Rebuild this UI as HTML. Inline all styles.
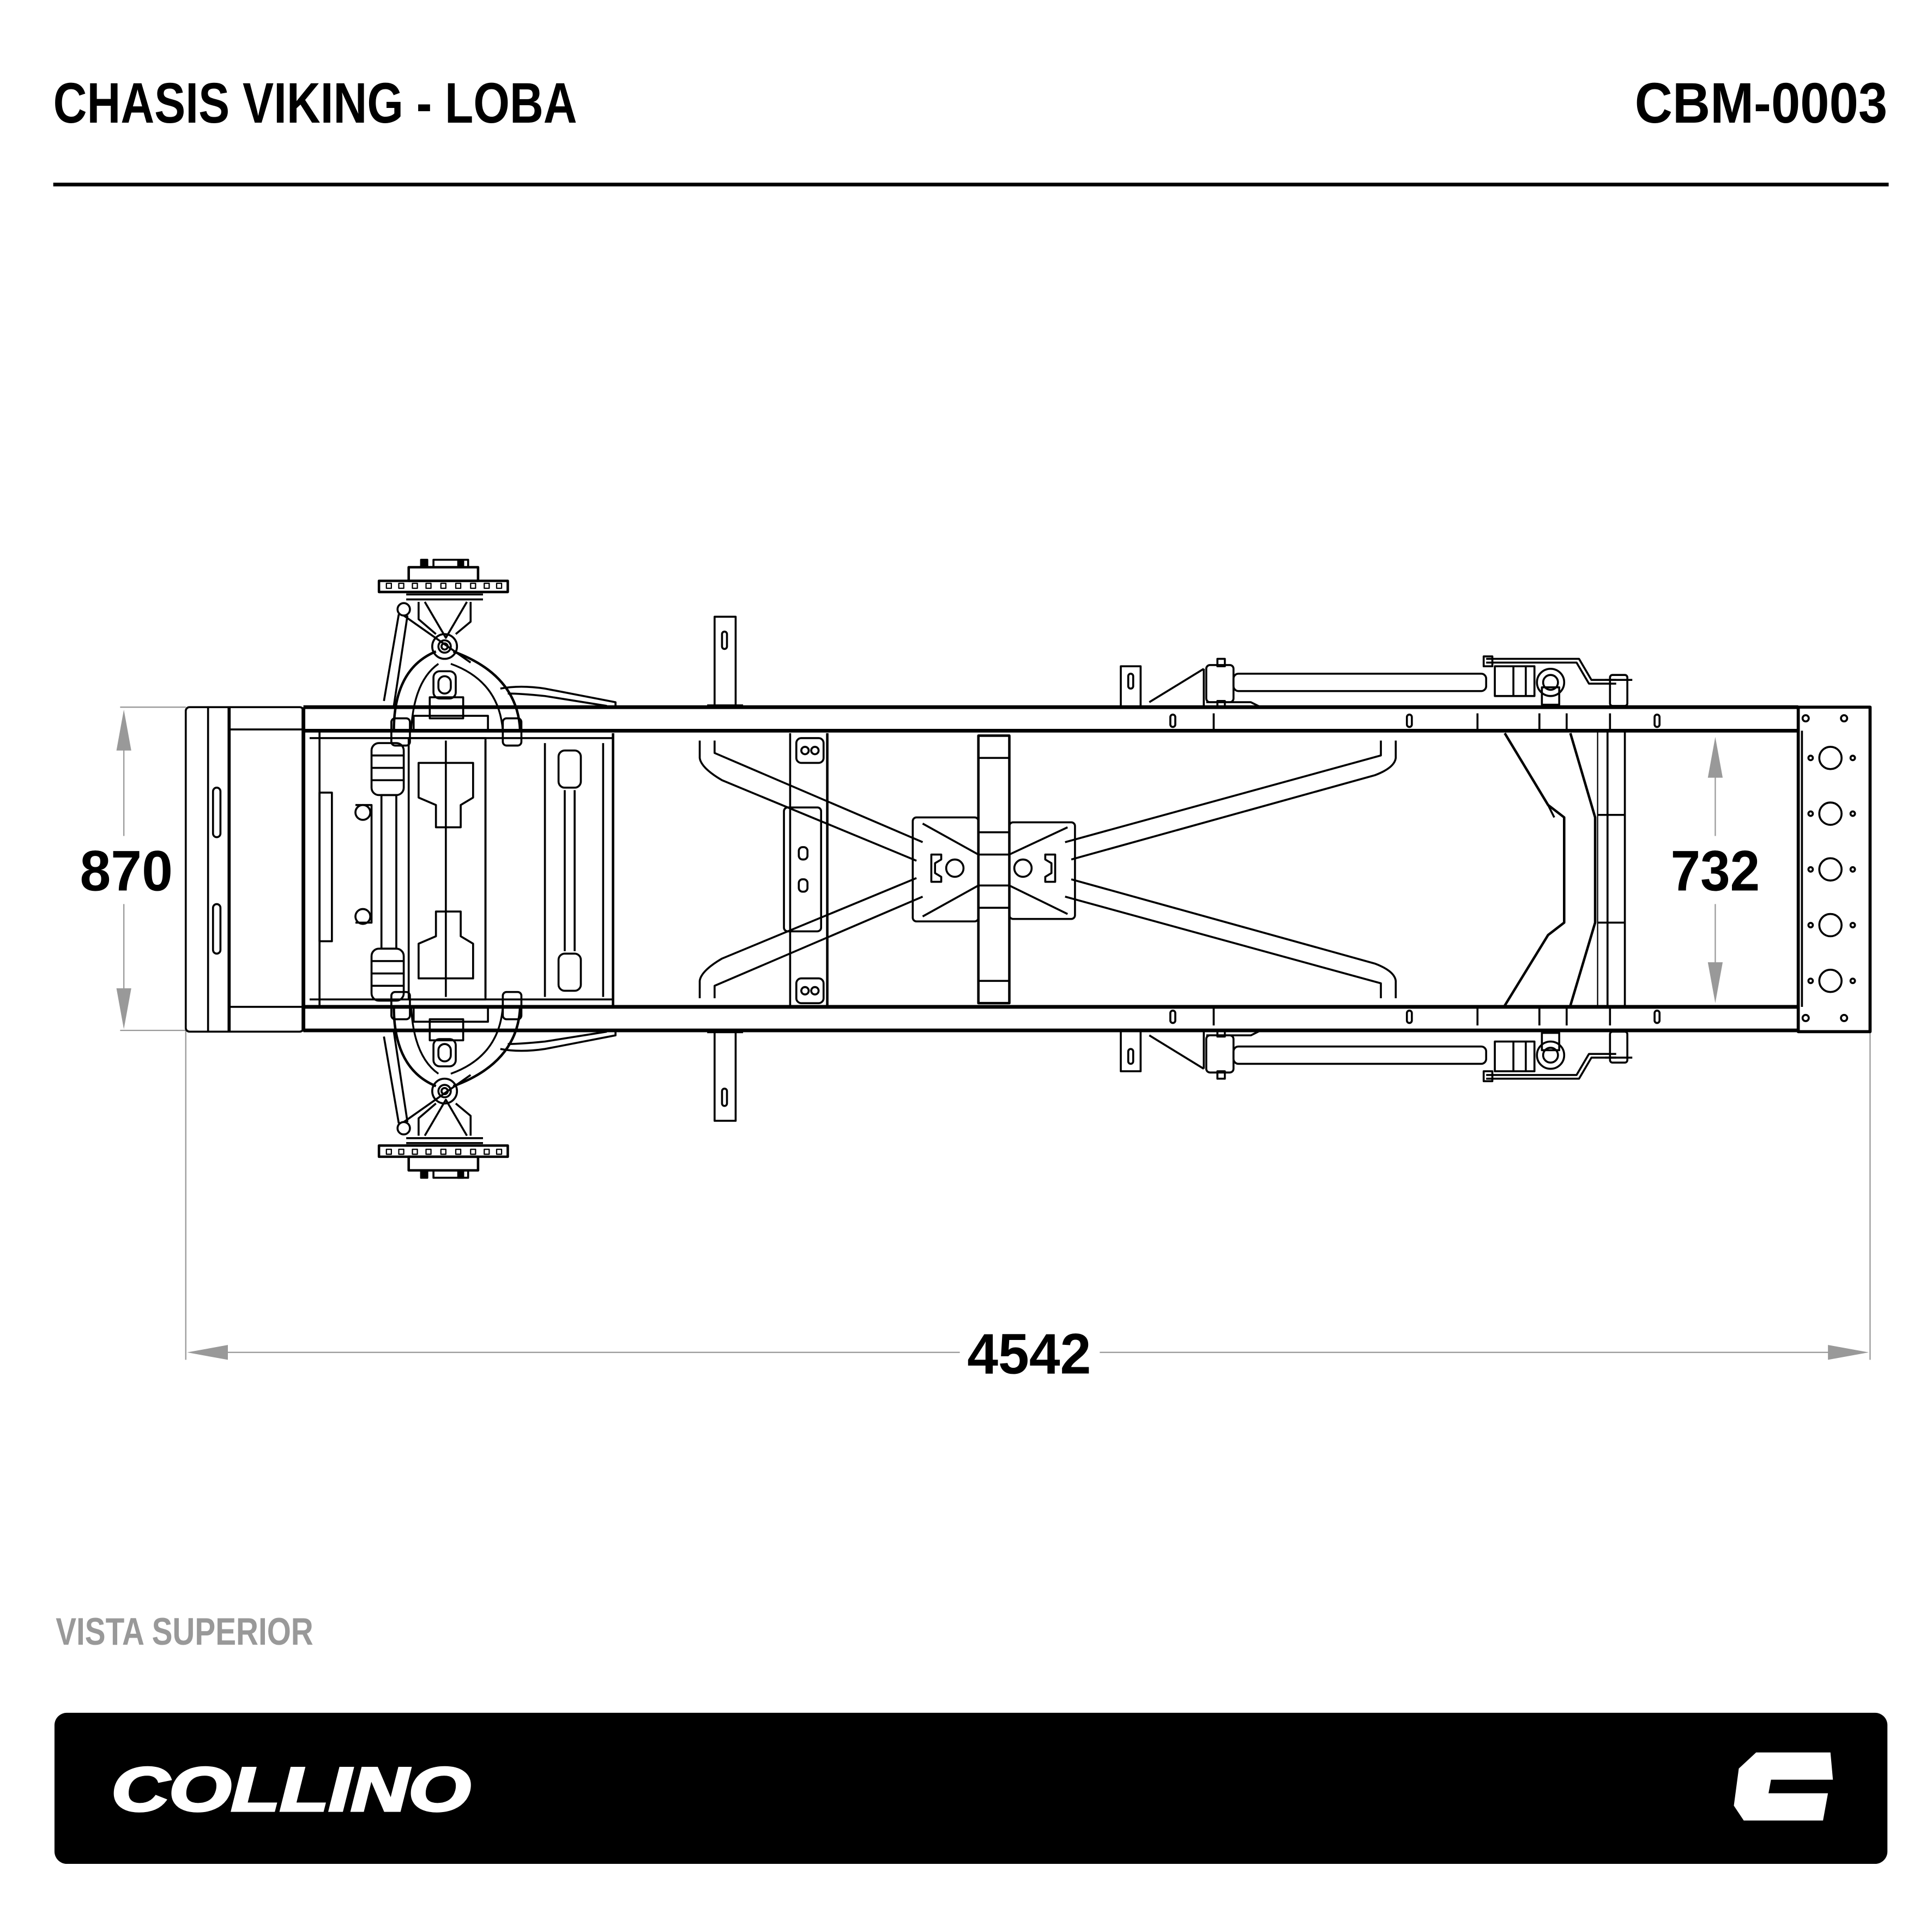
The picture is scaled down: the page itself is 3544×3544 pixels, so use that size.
<!DOCTYPE html>
<html><head><meta charset="utf-8">
<style>
html,body{margin:0;padding:0;background:#fff;}
svg{display:block;}
</style></head>
<body>
<svg width="3544" height="3544" viewBox="0 0 1560 1560" xmlns="http://www.w3.org/2000/svg">
<rect width="1560" height="1560" fill="#fff"/>
<text x="43" y="99" font-family="Liberation Sans, sans-serif" font-weight="bold" font-size="46" textLength="423" lengthAdjust="spacingAndGlyphs" fill="#000">CHASIS VIKING - LOBA</text>
<text x="1320" y="99" font-family="Liberation Sans, sans-serif" font-weight="bold" font-size="46" textLength="204" lengthAdjust="spacingAndGlyphs" fill="#000">CBM-0003</text>
<rect x="43" y="147.5" width="1482" height="3" fill="#000"/>

<g stroke="#999" stroke-width="1" fill="none">
<line x1="97" y1="571" x2="150" y2="571"/>
<line x1="97" y1="832" x2="150" y2="832"/>
<line x1="100" y1="590" x2="100" y2="675"/>
<line x1="100" y1="730" x2="100" y2="815"/>
<line x1="1385" y1="612" x2="1385" y2="675"/>
<line x1="1385" y1="730" x2="1385" y2="792"/>
<line x1="150" y1="832" x2="150" y2="1098"/>
<line x1="1510" y1="832" x2="1510" y2="1098"/>
<line x1="165" y1="1092" x2="775" y2="1092"/>
<line x1="888" y1="1092" x2="1495" y2="1092"/>
</g>
<g fill="#999">
<polygon points="100,573 94,606 106,606"/>
<polygon points="100,831 94,798 106,798"/>
<polygon points="1385,595 1379,628 1391,628"/>
<polygon points="1385,810 1379,777 1391,777"/>
<polygon points="151,1092 184,1086 184,1098"/>
<polygon points="1509,1092 1476,1086 1476,1098"/>
</g>
<g font-family="Liberation Sans, sans-serif" font-weight="bold" font-size="46" fill="#000" text-anchor="middle">
<text x="102" y="719" textLength="75" lengthAdjust="spacingAndGlyphs">870</text>
<text x="1385" y="719" textLength="72" lengthAdjust="spacingAndGlyphs">732</text>
<text x="831" y="1109" textLength="100" lengthAdjust="spacingAndGlyphs">4542</text>
</g>
<text x="45" y="1328" font-family="Liberation Sans, sans-serif" font-weight="bold" font-size="31" fill="#999" textLength="208" lengthAdjust="spacingAndGlyphs">VISTA SUPERIOR</text>

<rect x="44" y="1383" width="1480" height="122" rx="10" fill="#000"/>
<text x="90" y="1462" font-family="Liberation Sans, sans-serif" font-weight="bold" font-style="italic" font-size="50" fill="#fff" stroke="#fff" stroke-width="2" textLength="290" lengthAdjust="spacingAndGlyphs">COLLINO</text>
<polygon points="1418,1415 1478,1415 1480,1437 1430,1437 1428,1448 1476,1448 1472,1470 1408,1470 1400,1458 1404,1428" fill="#fff"/>

<g fill="none" stroke="#000" stroke-width="1.6" stroke-linejoin="round">
<rect x="150" y="571" width="95" height="262" rx="3"/>
<line x1="168" y1="571" x2="168" y2="833"/>
<line x1="185" y1="571" x2="185" y2="833" stroke-width="2.5"/>
<line x1="185" y1="589" x2="245" y2="589"/>
<line x1="185" y1="813" x2="245" y2="813"/>
<rect x="172" y="636" width="6" height="40" rx="3"/>
<rect x="172" y="730" width="6" height="40" rx="3"/>
<line x1="245" y1="571" x2="1452" y2="571" stroke-width="3"/>
<line x1="245" y1="590" x2="1452" y2="590" stroke-width="3"/>
<line x1="245" y1="813" x2="1452" y2="813" stroke-width="3"/>
<line x1="245" y1="832" x2="1452" y2="832" stroke-width="3"/>
<line x1="245" y1="571" x2="245" y2="833" stroke-width="3"/>
<line x1="258" y1="590" x2="258" y2="813"/>
<line x1="250" y1="596" x2="495" y2="596"/>
<line x1="250" y1="807" x2="495" y2="807"/>
<line x1="980" y1="576" x2="980" y2="590"/><line x1="1193" y1="576" x2="1193" y2="590"/><line x1="1243" y1="576" x2="1243" y2="590"/>
<line x1="1265" y1="576" x2="1265" y2="590"/><line x1="1300" y1="576" x2="1300" y2="590"/>
<line x1="980" y1="813" x2="980" y2="828"/><line x1="1193" y1="813" x2="1193" y2="828"/><line x1="1243" y1="813" x2="1243" y2="828"/>
<line x1="1265" y1="813" x2="1265" y2="828"/><line x1="1300" y1="813" x2="1300" y2="828"/>
<rect x="945" y="577" width="4" height="10" rx="2"/><rect x="1136" y="577" width="4" height="10" rx="2"/><rect x="1336" y="577" width="4" height="10" rx="2"/>
<rect x="945" y="816" width="4" height="10" rx="2"/><rect x="1136" y="816" width="4" height="10" rx="2"/><rect x="1336" y="816" width="4" height="10" rx="2"/>
<rect x="1452" y="571" width="58" height="262" stroke-width="2.5"/>
<line x1="1455" y1="590" x2="1455" y2="813"/>
<g>
<circle cx="1478" cy="612" r="9"/><circle cx="1478" cy="657" r="9"/><circle cx="1478" cy="702" r="9"/><circle cx="1478" cy="747" r="9"/><circle cx="1478" cy="792" r="9"/>
<circle cx="1462" cy="612" r="1.8"/><circle cx="1496" cy="612" r="1.8"/><circle cx="1462" cy="657" r="1.8"/><circle cx="1496" cy="657" r="1.8"/>
<circle cx="1462" cy="702" r="1.8"/><circle cx="1496" cy="702" r="1.8"/><circle cx="1462" cy="747" r="1.8"/><circle cx="1496" cy="747" r="1.8"/>
<circle cx="1462" cy="792" r="1.8"/><circle cx="1496" cy="792" r="1.8"/>
<circle cx="1458" cy="580" r="2.5"/><circle cx="1489" cy="580" r="2.5"/><circle cx="1458" cy="822" r="2.5"/><circle cx="1489" cy="822" r="2.5"/>
</g>
<line x1="1298" y1="590" x2="1298" y2="813"/>
<line x1="1312" y1="590" x2="1312" y2="813"/>
<line x1="1290" y1="590" x2="1290" y2="813" stroke-width="1"/>
<line x1="1290" y1="658" x2="1312" y2="658"/><line x1="1290" y1="745" x2="1312" y2="745"/>
<polyline points="1215,592 1250,650 1263,660 1263,745 1250,755 1215,812" stroke-width="2"/>
<polyline points="1268,592 1288,660 1288,745 1268,812" stroke-width="2"/>
<line x1="1250" y1="650" x2="1255" y2="660"/>
<path d="M565,598 L565,612 Q566,620 583,630 L740,695"/>
<path d="M577,598 L577,608 L745,680"/>
<path d="M565,806 L565,792 Q566,784 583,774 L740,709"/>
<path d="M577,806 L577,796 L745,724"/>
<path d="M1127,598 L1127,612 Q1126,620 1110,626 L865,694"/>
<path d="M1115,598 L1115,610 L860,680"/>
<path d="M1127,806 L1127,792 Q1126,784 1110,778 L865,710"/>
<path d="M1115,806 L1115,794 L860,724"/>
<rect x="737" y="660" width="53" height="84" rx="3"/>
<rect x="815" y="664" width="53" height="78" rx="3"/>
<line x1="745" y1="665" x2="790" y2="690"/><line x1="745" y1="740" x2="790" y2="715"/>
<line x1="815" y1="690" x2="862" y2="668"/><line x1="815" y1="715" x2="862" y2="738"/>
<circle cx="771" cy="701" r="7"/><circle cx="826" cy="701" r="7"/>
<path d="M752,690 L760,690 L760,694 L755,697 L755,705 L760,708 L760,712 L752,712 Z"/>
<path d="M852,690 L844,690 L844,694 L849,697 L849,705 L844,708 L844,712 L852,712 Z"/>
<rect x="790" y="594" width="25" height="216" stroke-width="2"/>
<line x1="790" y1="612" x2="815" y2="612"/><line x1="790" y1="672" x2="815" y2="672"/><line x1="790" y1="690" x2="815" y2="690"/>
<line x1="790" y1="715" x2="815" y2="715"/><line x1="790" y1="733" x2="815" y2="733"/><line x1="790" y1="792" x2="815" y2="792"/>
<line x1="638" y1="592" x2="638" y2="812"/><line x1="668" y1="592" x2="668" y2="812" stroke-width="2"/>
<rect x="633" y="652" width="30" height="100" rx="3"/>
<rect x="643" y="596" width="22" height="20" rx="4"/><rect x="643" y="790" width="22" height="20" rx="4"/>
<circle cx="650" cy="606" r="3"/><circle cx="658" cy="606" r="3"/><circle cx="650" cy="800" r="3"/><circle cx="658" cy="800" r="3"/>
<rect x="645" y="684" width="7" height="10" rx="3"/><rect x="645" y="710" width="7" height="10" rx="3"/>
<rect x="330" y="596" width="62" height="211"/>
<line x1="360" y1="598" x2="360" y2="805"/>
<path d="M338,616 L382,616 L382,644 L372,650 L372,668 L352,668 L352,650 L338,644 Z"/>
<path d="M338,790 L382,790 L382,762 L372,756 L372,736 L352,736 L352,756 L338,762 Z"/>
<line x1="392" y1="598" x2="392" y2="805"/>
<line x1="440" y1="600" x2="440" y2="805"/><line x1="487" y1="600" x2="487" y2="805"/><line x1="495" y1="592" x2="495" y2="812" stroke-width="2"/>
<rect x="451" y="606" width="18" height="30" rx="5"/><rect x="451" y="770" width="18" height="30" rx="5"/>
<line x1="456" y1="638" x2="456" y2="768"/><line x1="464" y1="638" x2="464" y2="768"/>
<rect x="300" y="600" width="26" height="42" rx="6"/>
<line x1="300" y1="610" x2="326" y2="610"/><line x1="300" y1="620" x2="326" y2="620"/><line x1="300" y1="630" x2="326" y2="630"/>
<rect x="300" y="766" width="26" height="42" rx="6"/>
<line x1="300" y1="776" x2="326" y2="776"/><line x1="300" y1="786" x2="326" y2="786"/><line x1="300" y1="796" x2="326" y2="796"/>
<rect x="308" y="642" width="12" height="124"/>
<circle cx="293" cy="656" r="6"/><circle cx="293" cy="740" r="6"/>
<path d="M287,650 L300,650 L300,745 L287,745"/>
<rect x="258" y="640" width="10" height="120"/>
</g>

<g id="susp" fill="none" stroke="#000" stroke-width="1.6" stroke-linejoin="round">
<rect x="306" y="469" width="104" height="9" stroke-width="2"/>
<g stroke-width="1">
<rect x="312" y="471" width="4" height="4"/><rect x="322" y="471" width="4" height="4"/><rect x="333" y="471" width="4" height="4"/><rect x="344" y="471" width="4" height="4"/><rect x="356" y="471" width="4" height="4"/><rect x="368" y="471" width="4" height="4"/><rect x="380" y="471" width="4" height="4"/><rect x="391" y="471" width="4" height="4"/><rect x="401" y="471" width="4" height="4"/>
</g>
<rect x="330" y="458" width="56" height="11" stroke-width="2"/>
<rect x="340" y="452" width="5" height="6" fill="#000"/><rect x="350" y="452" width="28" height="6"/><rect x="370" y="452" width="4" height="6" fill="#000"/>
<line x1="328" y1="480" x2="390" y2="480"/><line x1="328" y1="484" x2="390" y2="484"/>
<path d="M343,486 L360,515 L377,486"/>
<path d="M338,486 L338,500 L352,512"/><path d="M380,486 L380,502 L368,512"/>
<circle cx="359" cy="522" r="10"/><circle cx="359" cy="522" r="5"/><circle cx="359" cy="522" r="2.5"/>
<circle cx="326" cy="492" r="5"/>
<path d="M322,496 L310,566"/><path d="M329,497 L318,570"/>
<line x1="326" y1="497" x2="380" y2="535"/>
<path d="M318,590 Q318,540 352,526" stroke-width="2"/>
<path d="M332,590 Q334,550 354,536" stroke-width="1.5"/>
<path d="M420,590 Q418,545 366,526" stroke-width="2"/>
<path d="M406,590 Q403,550 364,536" stroke-width="1.5"/>
<rect x="316" y="580" width="15" height="22" rx="3"/><rect x="406" y="580" width="15" height="22" rx="3"/>
<rect x="350" y="542" width="18" height="22" rx="5"/>
<rect x="354" y="546" width="10" height="14" rx="5"/>
<rect x="347" y="563" width="27" height="17"/>
<rect x="334" y="578" width="60" height="12"/>
<path d="M404,556 Q420,553 440,556 L497,567 L497,572"/>
<path d="M410,560 Q420,560 440,562 L490,570"/>
<rect x="577" y="498" width="17" height="73"/>
<rect x="583" y="510" width="4" height="14" rx="2"/>
<line x1="571" y1="570" x2="600" y2="570" stroke-width="2.5"/>
<rect x="905" y="538" width="16" height="33"/>
<rect x="911" y="544" width="4" height="12" rx="2"/>
<line x1="928" y1="567" x2="972" y2="540"/>
<line x1="972" y1="540" x2="972" y2="571"/>
<rect x="974" y="537" width="22" height="30" rx="3"/>
<rect x="996" y="544" width="204" height="14" rx="4"/>
<path d="M974,567 L1010,567 L1018,571"/>
<rect x="983" y="532" width="6" height="6"/><rect x="983" y="566" width="6" height="5"/>
<rect x="1207" y="538" width="32" height="24"/>
<line x1="1222" y1="538" x2="1222" y2="562"/><line x1="1232" y1="538" x2="1232" y2="562"/>
<circle cx="1252" cy="551" r="11"/><circle cx="1252" cy="551" r="6"/>
<rect x="1245" y="555" width="14" height="14"/>
<rect x="1198" y="530" width="7" height="8"/>
<path d="M1200,532 L1275,532 L1285,549 L1305,549"/>
<path d="M1200,535 L1273,535 L1283,552 L1305,552"/>
<rect x="1300" y="545" width="14" height="25" rx="2"/>
<line x1="1296" y1="549" x2="1318" y2="549"/>
</g>
<use href="#susp" transform="translate(0,1403) scale(1,-1)"/>
</svg>
</body></html>
